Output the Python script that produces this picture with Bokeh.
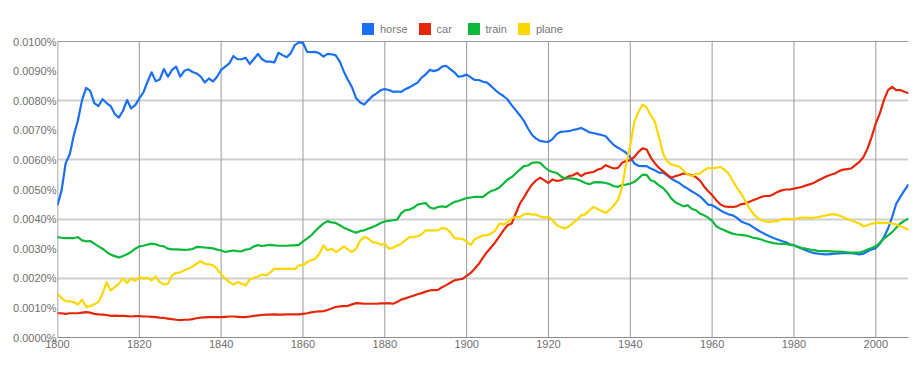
from bokeh.plotting import figure
from bokeh.models import FixedTicker, Span, Legend, LegendItem
from bokeh.embed import file_html
from bokeh.resources import INLINE

# Values in units of 0.001 % (so 10 == 0.0100%)
years = list(range(1800, 2009))

horse = [4.47, 4.97, 5.89, 6.19, 6.84, 7.34, 8.02, 8.43, 8.33, 7.92,
         7.82, 8.05, 7.92, 7.82, 7.55, 7.43, 7.66, 8.02, 7.74, 7.85,
         8.08, 8.28, 8.64, 8.96, 8.66, 8.72, 9.07, 8.81, 9.04, 9.15,
         8.81, 9.01, 9.06, 8.97, 8.92, 8.81, 8.62, 8.75, 8.65, 8.81,
         9.04, 9.15, 9.26, 9.51, 9.40, 9.40, 9.45, 9.24, 9.41, 9.58,
         9.40, 9.32, 9.32, 9.29, 9.62, 9.54, 9.47, 9.60, 9.88, 9.97,
         9.96, 9.65, 9.64, 9.65, 9.60, 9.49, 9.58, 9.57, 9.53, 9.32,
         8.98, 8.70, 8.45, 8.08, 7.94, 7.87, 8.02, 8.16, 8.25, 8.36,
         8.39, 8.36, 8.30, 8.31, 8.30, 8.39, 8.45, 8.53, 8.61, 8.78,
         8.89, 9.04, 9.00, 9.04, 9.15, 9.18, 9.07, 8.96, 8.81, 8.83,
         8.88, 8.79, 8.70, 8.70, 8.64, 8.61, 8.49, 8.36, 8.25, 8.16,
         8.04, 7.85, 7.68, 7.51, 7.32, 7.06, 6.84, 6.72, 6.64, 6.62,
         6.61, 6.70, 6.87, 6.95, 6.96, 6.97, 7.01, 7.04, 7.08, 7.01,
         6.93, 6.91, 6.87, 6.84, 6.80, 6.64, 6.50, 6.41, 6.33, 6.24,
         6.08, 5.88, 5.80, 5.79, 5.79, 5.71, 5.65, 5.57, 5.57, 5.48,
         5.37, 5.29, 5.22, 5.11, 5.03, 4.94, 4.86, 4.77, 4.64, 4.49,
         4.47, 4.39, 4.30, 4.22, 4.16, 4.13, 4.05, 3.93, 3.87, 3.82,
         3.73, 3.64, 3.56, 3.49, 3.42, 3.36, 3.31, 3.26, 3.22, 3.14,
         3.12, 3.06, 3.00, 2.94, 2.89, 2.85, 2.83, 2.82, 2.81, 2.82,
         2.83, 2.84, 2.85, 2.85, 2.85, 2.83, 2.81, 2.83, 2.91, 2.97,
         3.02, 3.17, 3.39, 3.68, 4.07, 4.52, 4.75, 4.97, 5.17]

car = [0.82, 0.82, 0.80, 0.82, 0.82, 0.82, 0.84, 0.86, 0.84, 0.80,
       0.78, 0.77, 0.76, 0.73, 0.74, 0.73, 0.73, 0.72, 0.71, 0.72,
       0.72, 0.71, 0.71, 0.70, 0.69, 0.67, 0.66, 0.64, 0.62, 0.60,
       0.59, 0.60, 0.60, 0.62, 0.65, 0.67, 0.68, 0.69, 0.69, 0.69,
       0.69, 0.70, 0.71, 0.71, 0.70, 0.69, 0.69, 0.71, 0.73, 0.75,
       0.76, 0.77, 0.77, 0.78, 0.77, 0.77, 0.78, 0.78, 0.78, 0.78,
       0.80, 0.82, 0.85, 0.87, 0.88, 0.89, 0.93, 0.98, 1.03, 1.05,
       1.06, 1.07, 1.12, 1.16, 1.15, 1.14, 1.14, 1.14, 1.14, 1.15,
       1.15, 1.16, 1.14, 1.20, 1.28, 1.32, 1.37, 1.41, 1.46, 1.50,
       1.55, 1.59, 1.60, 1.61, 1.70, 1.77, 1.85, 1.93, 1.96, 1.98,
       2.08, 2.18, 2.33, 2.49, 2.70, 2.89, 3.05, 3.22, 3.42, 3.62,
       3.79, 3.85, 4.19, 4.52, 4.73, 4.97, 5.17, 5.31, 5.40, 5.31,
       5.22, 5.34, 5.29, 5.31, 5.37, 5.45, 5.48, 5.56, 5.45, 5.54,
       5.57, 5.59, 5.67, 5.71, 5.82, 5.76, 5.71, 5.73, 5.90, 5.96,
       5.99, 6.10, 6.27, 6.39, 6.35, 6.08, 5.89, 5.73, 5.62, 5.50,
       5.40, 5.45, 5.49, 5.54, 5.52, 5.48, 5.42, 5.31, 5.11, 4.95,
       4.81, 4.64, 4.50, 4.43, 4.41, 4.41, 4.43, 4.50, 4.52, 4.58,
       4.64, 4.69, 4.75, 4.78, 4.78, 4.84, 4.92, 4.97, 5.00, 5.00,
       5.03, 5.06, 5.09, 5.14, 5.18, 5.24, 5.31, 5.38, 5.45, 5.50,
       5.54, 5.62, 5.67, 5.69, 5.71, 5.82, 5.93, 6.10, 6.39, 6.78,
       7.23, 7.57, 8.02, 8.36, 8.47, 8.36, 8.36, 8.30, 8.25]

train = [3.39, 3.37, 3.36, 3.36, 3.36, 3.39, 3.28, 3.25, 3.26, 3.17,
         3.08, 3.00, 2.89, 2.80, 2.75, 2.70, 2.75, 2.81, 2.89, 3.00,
         3.08, 3.10, 3.14, 3.17, 3.15, 3.10, 3.08, 3.00, 2.98, 2.98,
         2.97, 2.96, 2.97, 2.99, 3.06, 3.05, 3.04, 3.03, 3.01, 2.97,
         2.94, 2.89, 2.92, 2.94, 2.92, 2.91, 2.97, 2.99, 3.08, 3.12,
         3.09, 3.11, 3.13, 3.11, 3.10, 3.10, 3.10, 3.11, 3.11, 3.13,
         3.25, 3.34, 3.45, 3.60, 3.73, 3.85, 3.93, 3.89, 3.87, 3.79,
         3.71, 3.65, 3.59, 3.54, 3.60, 3.62, 3.68, 3.73, 3.79, 3.87,
         3.92, 3.94, 3.96, 3.98, 4.19, 4.30, 4.32, 4.38, 4.49, 4.52,
         4.54, 4.39, 4.35, 4.41, 4.43, 4.41, 4.50, 4.58, 4.61, 4.66,
         4.71, 4.73, 4.75, 4.75, 4.75, 4.86, 4.95, 4.99, 5.07, 5.20,
         5.34, 5.42, 5.54, 5.67, 5.79, 5.81, 5.90, 5.92, 5.90, 5.76,
         5.65, 5.59, 5.56, 5.45, 5.37, 5.38, 5.37, 5.34, 5.29, 5.22,
         5.18, 5.24, 5.25, 5.24, 5.22, 5.18, 5.11, 5.09, 5.15, 5.17,
         5.20, 5.26, 5.37, 5.50, 5.49, 5.31, 5.26, 5.14, 5.05, 4.90,
         4.70, 4.57, 4.50, 4.43, 4.47, 4.35, 4.30, 4.19, 4.13, 4.05,
         3.94, 3.76, 3.68, 3.62, 3.56, 3.51, 3.48, 3.47, 3.45, 3.42,
         3.37, 3.35, 3.31, 3.26, 3.22, 3.19, 3.17, 3.16, 3.16, 3.14,
         3.11, 3.06, 3.02, 3.00, 2.97, 2.95, 2.92, 2.92, 2.92, 2.91,
         2.90, 2.90, 2.89, 2.88, 2.87, 2.87, 2.87, 2.91, 2.97, 3.02,
         3.08, 3.20, 3.34, 3.45, 3.56, 3.71, 3.85, 3.94, 4.02]

plane = [1.48, 1.33, 1.23, 1.22, 1.20, 1.11, 1.28, 1.03, 1.06, 1.12,
         1.20, 1.48, 1.87, 1.59, 1.70, 1.82, 1.99, 1.84, 1.99, 1.91,
         2.04, 1.99, 2.02, 1.93, 2.06, 1.87, 1.79, 1.82, 2.10, 2.18,
         2.20, 2.27, 2.32, 2.40, 2.49, 2.58, 2.49, 2.47, 2.44, 2.32,
         2.13, 1.99, 1.87, 1.79, 1.87, 1.82, 1.76, 1.96, 2.02, 2.06,
         2.13, 2.10, 2.20, 2.32, 2.32, 2.32, 2.32, 2.32, 2.31, 2.44,
         2.44, 2.55, 2.61, 2.66, 2.83, 3.11, 2.94, 3.00, 2.89, 2.97,
         3.08, 2.97, 2.89, 3.00, 3.28, 3.39, 3.34, 3.22, 3.20, 3.14,
         3.17, 3.00, 3.03, 3.11, 3.17, 3.28, 3.39, 3.39, 3.42, 3.49,
         3.62, 3.62, 3.62, 3.62, 3.70, 3.68, 3.56, 3.36, 3.34, 3.33,
         3.24, 3.13, 3.32, 3.39, 3.45, 3.45, 3.51, 3.62, 3.85, 3.82,
         3.90, 4.02, 4.07, 4.07, 4.16, 4.18, 4.15, 4.15, 4.09, 4.05,
         4.09, 3.96, 3.79, 3.73, 3.68, 3.75, 3.87, 3.98, 4.13, 4.16,
         4.30, 4.41, 4.35, 4.27, 4.21, 4.32, 4.47, 4.64, 5.09, 5.88,
         6.50, 7.29, 7.62, 7.87, 7.77, 7.51, 7.29, 6.78, 6.22, 5.95,
         5.85, 5.81, 5.77, 5.63, 5.52, 5.45, 5.52, 5.54, 5.65, 5.73,
         5.71, 5.74, 5.76, 5.67, 5.54, 5.31, 5.07, 4.88, 4.64, 4.39,
         4.19, 4.05, 3.96, 3.93, 3.90, 3.93, 3.93, 4.00, 4.01, 3.99,
         4.00, 4.03, 4.05, 4.05, 4.04, 4.05, 4.07, 4.10, 4.13, 4.16,
         4.16, 4.12, 4.07, 4.00, 3.96, 3.90, 3.85, 3.76, 3.79, 3.85,
         3.87, 3.88, 3.87, 3.87, 3.85, 3.82, 3.76, 3.71, 3.64]

series_names = ["horse", "car", "train", "plane"]
series_colors = ["#1a6ff2", "#e5260b", "#0db83a", "#fcd800"]

y_ticks = list(range(0, 11))
y_tick_labels = ["0.0000%", "0.0010%", "0.0020%", "0.0030%", "0.0040%", "0.0050%",
                 "0.0060%", "0.0070%", "0.0080%", "0.0090%", "0.0100%"]
x_ticks = list(range(1800, 2001, 20))
y_max = 10

FONT = "Liberation Sans"

# the frame reaches the top of the canvas so the legend can sit above y_max
FRAME_H = 337
TOP_PX = 296
p = figure(width=922, height=371, x_range=(1800, 2008),
           y_range=(0, y_max * FRAME_H / TOP_PX),
           output_backend="svg", toolbar_location=None,
           min_border_left=57, min_border_right=14, min_border_top=0, min_border_bottom=34)
p.outline_line_color = None
p.background_fill_color = "white"

# grids
p.xgrid.visible = False
p.ygrid.ticker = FixedTicker(ticks=[2, 4, 6, 8])
p.ygrid.grid_line_color = "#cfcfcf"
p.ygrid.grid_line_width = 2
p.add_layout(Span(location=y_max, dimension="width", line_color="#9a9a9a",
                  line_width=1, level="underlay"))
n = len(x_ticks)
p.segment(x0=x_ticks[1:], y0=[0] * (n - 1), x1=x_ticks[1:], y1=[y_max] * (n - 1),
          line_color="#9a9a9a", line_width=1)
p.segment(x0=[x_ticks[0]], y0=[0], x1=[x_ticks[0]], y1=[y_max],
          line_color="#888888", line_width=1.5)

# axes
p.yaxis.ticker = FixedTicker(ticks=y_ticks)
p.yaxis.major_label_overrides = {t: lab for t, lab in zip(y_ticks, y_tick_labels)}
p.xaxis.ticker = FixedTicker(ticks=x_ticks)
for ax in (p.xaxis[0], p.yaxis[0]):
    ax.axis_line_color = "#8c8c8c"
    ax.major_tick_line_color = None
    ax.minor_tick_line_color = None
    ax.major_tick_out = 0
    ax.major_tick_in = 0
    ax.major_label_text_font = FONT
    ax.major_label_text_font_size = "11px"
    ax.major_label_text_color = "#6f6f6f"
p.yaxis.axis_line_color = None
p.yaxis.major_label_standoff = 1
p.xaxis.major_label_standoff = 2

# lines
for vals, color in zip([horse, car, train, plane], series_colors):
    p.line(years, vals, line_color=color, line_width=2.2, line_join="round")

# legend with square swatches
items = []
for name, color in zip(series_names, series_colors):
    r = p.quad(left=[1700], right=[1701], bottom=[-5], top=[-4], fill_color=color, line_color=None)
    items.append(LegendItem(label=name, renderers=[r]))
legend = Legend(items=items, orientation="horizontal", location=(303, 301),
                glyph_width=15, glyph_height=15, label_height=15,
                label_text_font=FONT, label_text_font_size="11px",
                label_text_color="#777777", label_standoff=5, spacing=9,
                border_line_color=None, background_fill_alpha=0,
                padding=0, margin=0)
p.add_layout(legend, "center")

open("out.html", "w").write(file_html(p, INLINE))
